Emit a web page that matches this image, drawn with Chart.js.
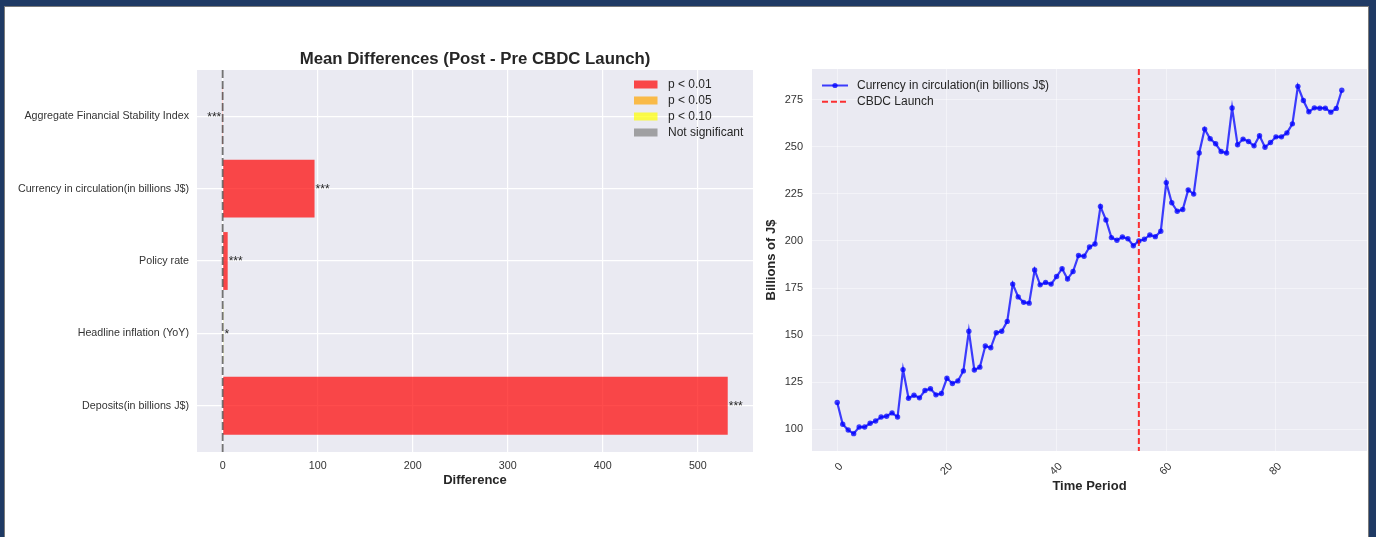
<!DOCTYPE html>
<html>
<head>
<meta charset="utf-8">
<script src="https://cdn.jsdelivr.net/npm/chart.js@4.4.1/dist/chart.umd.min.js"></script>
<style>
  html, body { margin: 0; padding: 0; }
  body { width: 1376px; height: 537px; background: #1f3a64; position: relative; overflow: hidden; }
  #panel { position: absolute; left: 4px; top: 6px; width: 1363px; height: 540px; background: #fff; border: 1px solid #7a7a7a; }
  canvas { position: absolute; top: 0; }
  #diff { left: 0; }
  #circ { left: 740px; }
</style>
</head>
<body>
<div id="panel"></div>
<canvas id="diff" width="780" height="537" style="width:780px;height:537px"></canvas>
<canvas id="circ" width="636" height="537" style="width:636px;height:537px"></canvas>
<script>
// Mean differences between the post- and pre-launch periods, top to bottom
const indicators = [
  'Aggregate Financial Stability Index',
  'Currency in circulation(in billions J$)',
  'Policy rate',
  'Headline inflation (YoY)',
  'Deposits(in billions J$)'
];
const meanDiff = [-0.4, 96.7, 5.3, 0.8, 531.5];
const stars = ['***', '***', '***', '*', '***'];
const diffTicks = [0, 100, 200, 300, 400, 500];

// Significance levels (index = 3 - number of stars)
const sigLabels = ['p < 0.01', 'p < 0.05', 'p < 0.10', 'Not significant'];
const sigColors = ['rgba(255,0,0,0.7)', 'rgba(255,165,0,0.7)', 'rgba(255,255,0,0.7)', 'rgba(128,128,128,0.7)'];

// Currency in circulation by period (billions J$)
const currency = [
  114.2, 102.7, 99.6, 97.7, 101.2, 101.2, 103.2, 104.4, 106.5, 106.9,
  108.7, 106.5, 131.7, 116.5, 118.1, 116.7, 120.6, 121.5, 118.3, 119.0,
  127.1, 124.3, 125.7, 131.0, 152.1, 131.5, 133.0, 144.2, 143.3, 151.3,
  152.1, 157.3, 177.1, 170.3, 167.4, 167.0, 184.6, 176.7, 178.0, 177.1,
  181.1, 185.3, 179.8, 183.8, 192.3, 191.9, 196.8, 198.4, 218.3, 211.2,
  201.8, 200.4, 202.1, 201.2, 197.5, 200.0, 200.9, 203.2, 202.3, 205.2,
  231.0, 220.3, 215.8, 216.7, 227.1, 224.9, 246.7, 259.4, 254.3, 251.6,
  247.5, 246.7, 270.6, 251.1, 254.1, 252.8, 250.5, 255.9, 249.8, 252.3,
  255.3, 255.3, 257.4, 262.2, 282.1, 274.6, 268.6, 270.7, 270.5, 270.5,
  268.4, 270.4, 280.0
];
const periods = currency.map((_, i) => i);
const launchPeriod = 55;
const periodTicks = [0, 20, 40, 60, 80];
const currencyTicks = [100, 125, 150, 175, 200, 225, 250, 275];
const seriesLabel = 'Currency in circulation(in billions J$)';
const launchLabel = 'CBDC Launch';

const FONT = '"Liberation Sans", Arial, Helvetica, sans-serif';
const TEXT = '#262626';
const PLOT_BG = '#eaeaf2';

// axis limits with a 5% margin on each side
function padded(lo, hi) { const m = (hi - lo) * 0.05; return [lo - m, hi + m]; }
const [dMin, dMax] = padded(Math.min(0, ...meanDiff), Math.max(0, ...meanDiff));
const [iMin, iMax] = padded(-0.4, indicators.length - 1 + 0.4);
const [pMin, pMax] = padded(periods[0], periods[periods.length - 1]);
const [cMin, cMax] = padded(Math.min(...currency), Math.max(...currency));

const fixedTicks = list => scale => { scale.ticks = list.map(v => ({ value: v })); };

const plotBg = {
  id: 'plotBg',
  beforeDraw(chart) {
    const { ctx, chartArea: a } = chart;
    ctx.save();
    ctx.fillStyle = PLOT_BG;
    ctx.fillRect(a.left, a.top, a.right - a.left, a.bottom - a.top);
    ctx.restore();
  }
};

// dashed reference line at zero difference
const zeroLine = {
  id: 'zeroLine',
  afterDatasetsDraw(chart) {
    const { ctx, chartArea: a, scales: { x } } = chart;
    const px = x.getPixelForValue(0);
    ctx.save();
    ctx.strokeStyle = 'rgba(0,0,0,0.55)';
    ctx.lineWidth = 1.8;
    ctx.setLineDash([8, 3]);
    ctx.beginPath();
    ctx.moveTo(px, a.top);
    ctx.lineTo(px, a.bottom);
    ctx.stroke();
    ctx.restore();
  }
};

// significance stars at the end of each bar
const starLabels = {
  id: 'starLabels',
  afterDatasetsDraw(chart) {
    const { ctx } = chart;
    const meta = chart.getDatasetMeta(0);
    ctx.save();
    ctx.fillStyle = TEXT;
    ctx.font = '12px ' + FONT;
    ctx.textBaseline = 'middle';
    meta.data.forEach((bar, i) => {
      const neg = meanDiff[i] < 0;
      ctx.textAlign = neg ? 'right' : 'left';
      ctx.fillText(stars[i], bar.x + (neg ? -1 : 1), bar.y + 1);
    });
    ctx.restore();
  }
};

const sigLegend = {
  id: 'sigLegend',
  afterDraw(chart) {
    const { ctx, chartArea: a } = chart;
    ctx.save();
    ctx.font = '12px ' + FONT;
    ctx.textBaseline = 'middle';
    ctx.textAlign = 'left';
    sigLabels.forEach((lab, i) => {
      const y = a.top + 14.5 + i * 16;
      ctx.fillStyle = sigColors[i];
      ctx.fillRect(a.right - 119, y - 4, 23.5, 8);
      ctx.fillStyle = TEXT;
      ctx.fillText(lab, a.right - 85, y);
    });
    ctx.restore();
  }
};

new Chart(document.getElementById('diff'), {
  type: 'bar',
  data: {
    datasets: [{
      data: meanDiff.map((v, i) => ({ x: v, y: i })),
      backgroundColor: stars.map(s => sigColors[3 - s.length]),
      borderWidth: 0,
      barPercentage: 0.8,
      categoryPercentage: 1
    }]
  },
  options: {
    indexAxis: 'y',
    responsive: false,
    animation: false,
    devicePixelRatio: 1,
    layout: { padding: { left: 0, right: 27, top: 0, bottom: 0 } },
    plugins: {
      legend: { display: false },
      tooltip: { enabled: false },
      title: {
        display: true,
        text: 'Mean Differences (Post - Pre CBDC Launch)',
        fullSize: false,
        color: TEXT,
        font: { family: FONT, size: 16.8, weight: 'bold', lineHeight: '18px' },
        padding: { top: 50, bottom: 2 }
      }
    },
    scales: {
      x: {
        type: 'linear', min: dMin, max: dMax,
        afterBuildTicks: fixedTicks(diffTicks),
        afterFit: s => { s.height = 85; },
        grid: { color: '#ffffff', lineWidth: 1.2, drawTicks: false },
        border: { display: false },
        ticks: { padding: 8, color: '#333', font: { family: FONT, size: 10.7 } },
        title: { display: true, text: 'Difference', color: TEXT, font: { family: FONT, size: 13, weight: 'bold' }, padding: { top: 0, bottom: 49 } }
      },
      y: {
        type: 'linear', reverse: true, min: iMin, max: iMax, offset: false,
        afterBuildTicks: fixedTicks(indicators.map((_, i) => i)),
        afterFit: s => { s.width = 197; },
        grid: { color: '#ffffff', lineWidth: 1.2, drawTicks: false, offset: false },
        border: { display: false },
        ticks: { padding: 8, color: '#333', font: { family: FONT, size: 10.7 }, callback: v => indicators[v] }
      }
    }
  },
  plugins: [plotBg, zeroLine, starLabels, sigLegend]
});

// vertical marker at the launch period
const launchLine = {
  id: 'launchLine',
  afterDatasetsDraw(chart) {
    const { ctx, chartArea: a, scales: { x } } = chart;
    const px = x.getPixelForValue(launchPeriod);
    ctx.save();
    ctx.strokeStyle = 'rgba(255,0,0,0.8)';
    ctx.lineWidth = 2;
    ctx.setLineDash([6, 3]);
    ctx.beginPath();
    ctx.moveTo(px, a.top);
    ctx.lineTo(px, a.bottom);
    ctx.stroke();
    ctx.restore();
  }
};

const lineLegend = {
  id: 'lineLegend',
  afterDraw(chart) {
    const { ctx, chartArea: a } = chart;
    const x0 = a.left + 10, x1 = a.left + 36, tx = a.left + 45;
    const y1 = a.top + 16.5, y2 = a.top + 32.7;
    ctx.save();
    ctx.strokeStyle = 'rgba(0,0,255,0.75)';
    ctx.lineWidth = 2;
    ctx.beginPath(); ctx.moveTo(x0, y1); ctx.lineTo(x1, y1); ctx.stroke();
    ctx.fillStyle = 'rgba(0,0,255,0.75)';
    ctx.beginPath(); ctx.arc((x0 + x1) / 2, y1, 2.6, 0, Math.PI * 2); ctx.fill();
    ctx.strokeStyle = 'rgba(255,0,0,0.8)';
    ctx.setLineDash([6, 3]);
    ctx.beginPath(); ctx.moveTo(x0, y2); ctx.lineTo(x1, y2); ctx.stroke();
    ctx.setLineDash([]);
    ctx.fillStyle = TEXT;
    ctx.font = '12px ' + FONT;
    ctx.textBaseline = 'middle';
    ctx.textAlign = 'left';
    ctx.fillText(seriesLabel, tx, y1);
    ctx.fillText(launchLabel, tx, y2);
    ctx.restore();
  }
};

new Chart(document.getElementById('circ'), {
  type: 'line',
  data: {
    datasets: [{
      label: seriesLabel,
      data: currency.map((v, i) => ({ x: periods[i], y: v })),
      borderColor: 'rgba(0,0,255,0.75)',
      borderWidth: 2.2,
      pointRadius: 2.7,
      pointBackgroundColor: 'rgba(0,0,255,0.75)',
      pointBorderWidth: 0,
      tension: 0,
      fill: false
    }]
  },
  options: {
    responsive: false,
    animation: false,
    devicePixelRatio: 1,
    layout: { padding: { left: 0, right: 9, top: 69, bottom: 0 } },
    plugins: { legend: { display: false }, tooltip: { enabled: false } },
    scales: {
      x: {
        type: 'linear', min: pMin, max: pMax,
        afterBuildTicks: fixedTicks(periodTicks),
        afterFit: s => { s.height = 86; },
        grid: { color: 'rgba(255,255,255,0.45)', lineWidth: 1, drawTicks: false },
        border: { display: false },
        ticks: { minRotation: 45, maxRotation: 45, padding: 9, labelOffset: 4, color: '#333', font: { family: FONT, size: 11 } },
        title: { display: true, text: 'Time Period', color: TEXT, font: { family: FONT, size: 13, weight: 'bold' }, padding: { top: 0, bottom: 43 } }
      },
      y: {
        type: 'linear', min: cMin, max: cMax,
        afterBuildTicks: fixedTicks(currencyTicks),
        afterFit: s => { s.width = 72; },
        grid: { color: 'rgba(255,255,255,0.45)', lineWidth: 1, drawTicks: false },
        border: { display: false },
        ticks: { padding: 9, color: '#333', font: { family: FONT, size: 11 } },
        title: { display: true, text: 'Billions of J$', color: TEXT, font: { family: FONT, size: 13, weight: 'bold' }, padding: { top: 24, bottom: 0 } }
      }
    }
  },
  plugins: [plotBg, launchLine, lineLegend]
});
</script>
</body>
</html>
